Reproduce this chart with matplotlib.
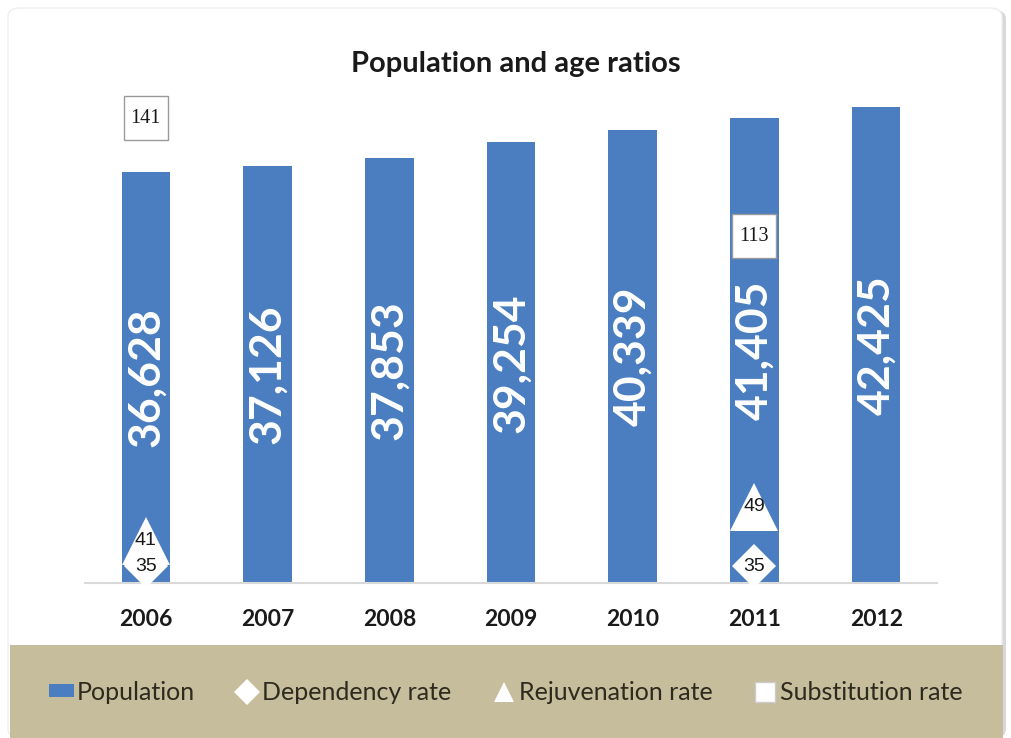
import numpy as np
import matplotlib.pyplot as plt
from matplotlib.patches import FancyBboxPatch, Rectangle, Patch
from matplotlib.lines import Line2D

plt.rcParams['font.family'] = ['Lato', 'DejaVu Sans']

# data
years = ['2006', '2007', '2008', '2009', '2010', '2011', '2012']
population = [36628, 37126, 37853, 39254, 40339, 41405, 42425]
dependency = [35, np.nan, np.nan, np.nan, np.nan, 35, np.nan]
rejuvenation = [41, np.nan, np.nan, np.nan, np.nan, 49, np.nan]
substitution = [141, np.nan, np.nan, np.nan, np.nan, 113, np.nan]

bar_color = '#4a7ec0'
band_color = '#c5bd9c'
x = np.arange(len(years))

fig = plt.figure(figsize=(10.11, 7.38), dpi=100)
fig.patch.set_facecolor('white')

# card background with soft shadow + legend band
fig.patches.append(FancyBboxPatch((12 / 1011, 0), 994 / 1011, 728 / 738,
                                  boxstyle='round,pad=0,rounding_size=0.012',
                                  transform=fig.transFigure, facecolor='#d8d8d8',
                                  edgecolor='none', zorder=-3))
fig.patches.append(FancyBboxPatch((8 / 1011, 0), 994 / 1011, 730 / 738,
                                  boxstyle='round,pad=0,rounding_size=0.012',
                                  transform=fig.transFigure, facecolor='white',
                                  edgecolor='#eeeeee', zorder=-2))
fig.patches.append(Rectangle((10 / 1011, 0), 993 / 1011, 93 / 738,
                             transform=fig.transFigure, facecolor=band_color,
                             edgecolor='none', zorder=-1))

ax = fig.add_axes([85 / 1011, 155 / 738, 852 / 1011, 505 / 738])
ax.set_facecolor('none')
ax.bar(x, population, width=0.4, color=bar_color, zorder=2)
ax.set_ylim(0, 45000)
ax.set_xlim(-0.5, 6.5)
ax.set_xticks(x)
ax.set_xticklabels(years, fontsize=16.5, fontweight='bold', color='#1a1a1a')
ax.tick_params(axis='x', length=0, pad=19)
ax.set_yticks([])
for s in ['top', 'left', 'right']:
    ax.spines[s].set_visible(False)
ax.spines['bottom'].set_color('#d9d9d9')
ax.spines['bottom'].set_linewidth(1.5)

for xi, v in zip(x, population):
    ax.text(xi, v / 2, f'{v:,}', rotation=90, ha='center', va='center',
            color='white', fontsize=32, fontweight='bold', zorder=3)

# rates on secondary axis
ax2 = ax.twinx()
ax2.set_ylim(31, 150.5)
ax2.set_yticks([])
for s in ['top', 'left', 'right', 'bottom']:
    ax2.spines[s].set_visible(False)

ax2.plot(x, rejuvenation, linestyle='none', marker='^', markersize=34,
         color='white', markeredgewidth=0, zorder=3)
ax2.plot(x, dependency, linestyle='none', marker='D', markersize=22,
         color='white', markeredgewidth=0, zorder=4)
ax2.plot(x, substitution, linestyle='none', marker='s', markersize=31,
         markerfacecolor='white', markeredgecolor='#9a9a9a', markeredgewidth=1,
         zorder=4)

for xi, v in zip(x, rejuvenation):
    if not np.isnan(v):
        ax2.text(xi, v, f'{v:.0f}', ha='center', va='center', fontsize=14,
                 family='Liberation Sans', color='#1a1a1a', zorder=6)
for xi, v in zip(x, dependency):
    if not np.isnan(v):
        ax2.text(xi, v, f'{v:.0f}', ha='center', va='center', fontsize=14,
                 family='Liberation Sans', color='#1a1a1a', zorder=6)
for xi, v in zip(x, substitution):
    if not np.isnan(v):
        ax2.text(xi, v, f'{v:.0f}', ha='center', va='center', fontsize=14.5,
                 family='Liberation Serif', color='#1a1a1a', zorder=6)

fig.text(516 / 1011, 1 - 64 / 738, 'Population and age ratios', ha='center',
         va='center', fontsize=21, fontweight='bold', color='#1a1a1a')

handles = [
    Patch(facecolor=bar_color, edgecolor='none'),
    Line2D([], [], linestyle='none', marker='D', markersize=13, color='white',
           markeredgewidth=0),
    Line2D([], [], linestyle='none', marker='^', markersize=15, color='white',
           markeredgewidth=0),
    Line2D([], [], linestyle='none', marker='s', markersize=14,
           markerfacecolor='white', markeredgecolor='#cccccc'),
]
labels = ['Population', 'Dependency rate', 'Rejuvenation rate', 'Substitution rate']
fig.legend(handles, labels, loc='center', bbox_to_anchor=(506 / 1011, 46 / 738),
           ncol=4, frameon=False, fontsize=18, handlelength=1.0,
           handleheight=0.45, handletextpad=0.1, columnspacing=1.6,
           labelcolor='#2e2a1e')

fig.savefig('out.png', dpi=100)
